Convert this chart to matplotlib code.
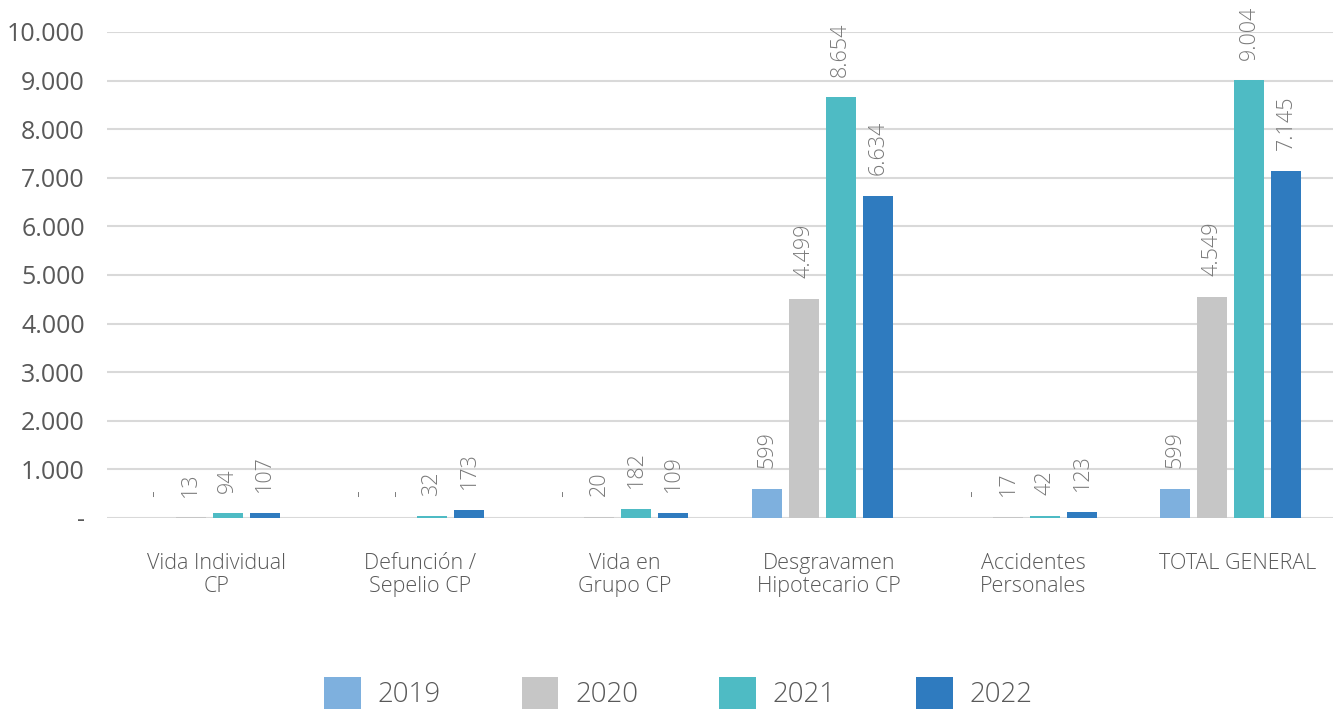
import numpy as np
import matplotlib.pyplot as plt
import matplotlib.ticker as mticker
import matplotlib.transforms as mtransforms

plt.rcParams['font.family'] = ['Open Sans', 'DejaVu Sans']
plt.rcParams['font.weight'] = 'light'

# data
categorias = ['Vida Individual\nCP', 'Defunción /\nSepelio CP', 'Vida en\nGrupo CP',
              'Desgravamen\nHipotecario CP', 'Accidentes\nPersonales', 'TOTAL GENERAL']
anios = ['2019', '2020', '2021', '2022']
v2019 = [0, 0, 0, 599, 0, 599]
v2020 = [13, 0, 20, 4499, 17, 4549]
v2021 = [94, 32, 182, 8654, 42, 9004]
v2022 = [107, 173, 109, 6634, 123, 7145]
colores = ['#7EB0DE', '#C6C6C6', '#4EBBC4', '#2F7BBF']

series = [v2019, v2020, v2021, v2022]


def fmt_miles(v):
    if v == 0:
        return '-'
    return f'{v:,.0f}'.replace(',', '.')


fig = plt.figure(figsize=(13.38, 7.2), dpi=100)
ax = fig.add_axes([0.080, 0.2806, 0.9163, 0.675])

x = np.arange(len(categorias))
ancho = 0.147
paso = 0.181
for i, (vals, col, anio) in enumerate(zip(series, colores, anios)):
    pos = x + (i - 1.5) * paso
    bars = ax.bar(pos, vals, width=ancho, color=col, label=anio, zorder=3)
    for b, v in zip(bars, vals):
        ax.annotate(fmt_miles(v), (b.get_x() + b.get_width() / 2, v),
                    xytext=(0, 15), textcoords='offset points',
                    rotation=90, ha='center', va='bottom',
                    fontsize=15.5, color='#7a7a7a', clip_on=False)

ax.set_xlim(-0.5, len(categorias) - 0.5)
ax.set_ylim(0, 10000)
ax.yaxis.set_major_locator(mticker.MultipleLocator(1000))
ax.yaxis.set_major_formatter(mticker.FuncFormatter(lambda v, p: fmt_miles(v)))
ax.grid(axis='y', color='#d9d9d9', linewidth=1.5, zorder=0)
ax.set_axisbelow(True)
for s in ax.spines.values():
    s.set_visible(False)

ax.set_xticks(x)
ax.set_xticklabels(categorias, fontsize=15.5, color='#595959', linespacing=1.15)
ax.tick_params(axis='x', length=0, pad=25)
ax.tick_params(axis='y', length=0, pad=16, labelsize=18, labelcolor='#595959')
for lab in ax.get_yticklabels():
    lab.set_fontweight('normal')
desplaza = mtransforms.ScaledTranslation(7 / 100, 0, fig.dpi_scale_trans)
for lab in ax.get_xticklabels():
    lab.set_transform(lab.get_transform() + desplaza)

fig.legend(loc='lower center', ncol=4, frameon=False, fontsize=20,
           handlelength=1.33, handleheight=1.37, handletextpad=0.6,
           columnspacing=2.9, bbox_to_anchor=(0.507, -0.02),
           labelcolor='#595959')

fig.savefig('out.png', dpi=100)
